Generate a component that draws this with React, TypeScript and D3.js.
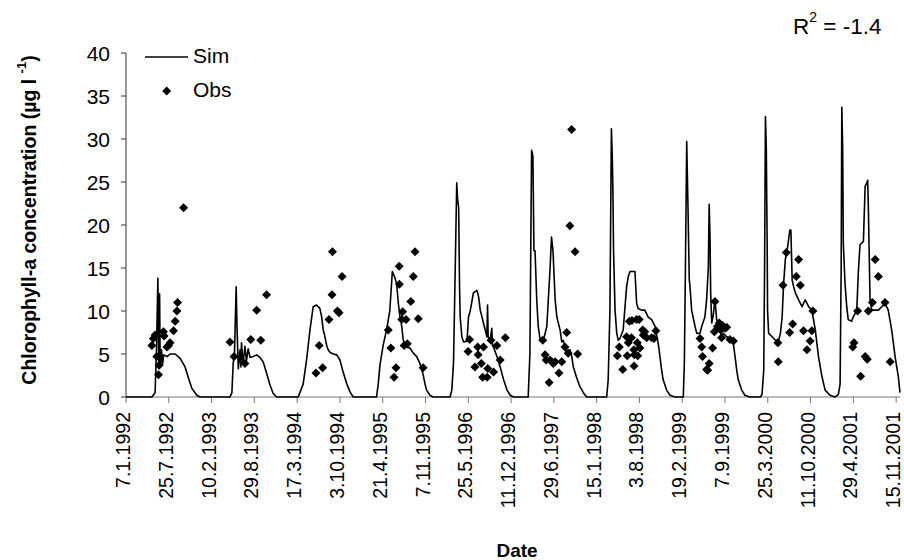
import * as d3 from 'd3'

// simulated chlorophyll-a (breakpoints of the daily series)
const SIM: [string, number][] = [
  ['1992-01-07', 0], ['1992-05-07', 0], ['1992-05-22', 0.5], ['1992-05-29', 6], ['1992-06-04', 13.8], ['1992-06-08', 4],
  ['1992-06-12', 12], ['1992-06-15', 3.5], ['1992-06-21', 5.5], ['1992-06-26', 3.8], ['1992-07-01', 4.9], ['1992-07-17', 4.7],
  ['1992-07-31', 5.0], ['1992-08-24', 5.0], ['1992-09-16', 4.5], ['1992-10-09', 3.5], ['1992-10-25', 2.2], ['1992-11-10', 1.0],
  ['1992-12-03', 0.2], ['1992-12-18', 0],
  ['1993-05-07', 0], ['1993-05-16', 0.5], ['1993-05-22', 3.9], ['1993-05-28', 5], ['1993-06-05', 12.8], ['1993-06-09', 8],
  ['1993-06-15', 3.3], ['1993-06-23', 5.5], ['1993-06-27', 3.5], ['1993-06-30', 6.3], ['1993-07-07', 3.8], ['1993-07-16', 5.9],
  ['1993-07-23', 4.2], ['1993-07-31', 5.6], ['1993-08-09', 4.6], ['1993-08-24', 4.7], ['1993-09-09', 4.9], ['1993-09-24', 4.6],
  ['1993-10-09', 4.1], ['1993-10-25', 2.8], ['1993-11-10', 1.4], ['1993-11-25', 0.4], ['1993-12-11', 0],
  ['1994-03-22', 0], ['1994-04-14', 1.5], ['1994-04-30', 4.3], ['1994-05-16', 7.8], ['1994-05-31', 10.5], ['1994-06-16', 10.7],
  ['1994-07-01', 10.3], ['1994-07-09', 9.4], ['1994-07-17', 7.8], ['1994-07-25', 7.0], ['1994-08-02', 6.0], ['1994-08-09', 5.5],
  ['1994-08-17', 5.2], ['1994-09-02', 5.0], ['1994-09-18', 4.9], ['1994-10-03', 4.3], ['1994-10-18', 2.9], ['1994-11-03', 1.6],
  ['1994-11-19', 0.6], ['1994-12-04', 0],
  ['1995-03-23', 0], ['1995-03-31', 1.5], ['1995-04-08', 3.7], ['1995-04-23', 6.0], ['1995-05-09', 7.8], ['1995-05-24', 10.0],
  ['1995-06-05', 14.6], ['1995-06-15', 14.0], ['1995-06-25', 13.2], ['1995-07-03', 10.9], ['1995-07-11', 9.3], ['1995-07-19', 8.2],
  ['1995-07-26', 6.6], ['1995-08-11', 5.8], ['1995-08-26', 5.7], ['1995-09-11', 5.1], ['1995-09-27', 4.7], ['1995-10-12', 3.9],
  ['1995-10-27', 2.6], ['1995-11-04', 1.6], ['1995-11-12', 0.8], ['1995-11-28', 0.2], ['1995-12-13', 0],
  ['1996-03-01', 0], ['1996-03-09', 0.8], ['1996-03-17', 4], ['1996-03-25', 15], ['1996-04-01', 24.9], ['1996-04-05', 23],
  ['1996-04-10', 22], ['1996-04-14', 13], ['1996-04-17', 9.3], ['1996-04-25', 7], ['1996-05-03', 6.4], ['1996-05-19', 6.5],
  ['1996-05-26', 9.3], ['1996-06-03', 10.0], ['1996-06-18', 12.1], ['1996-07-04', 12.4], ['1996-07-12', 11.7], ['1996-07-20', 10.1],
  ['1996-08-04', 8.6], ['1996-08-20', 7.0], ['1996-08-23', 10.7], ['1996-08-26', 7.0], ['1996-09-04', 6.6], ['1996-09-12', 8.0],
  ['1996-09-15', 6.0], ['1996-09-20', 5.8], ['1996-10-06', 4.7], ['1996-10-21', 3.5], ['1996-11-06', 2.0], ['1996-11-22', 0.8],
  ['1996-12-07', 0.2], ['1996-12-23', 0],
  ['1997-03-01', 0], ['1997-03-09', 5], ['1997-03-14', 20], ['1997-03-17', 28.7], ['1997-03-23', 28], ['1997-03-28', 17],
  ['1997-04-02', 17], ['1997-04-10', 11.3], ['1997-04-17', 8.2], ['1997-04-25', 6.8], ['1997-05-11', 6.6], ['1997-05-27', 8.2],
  ['1997-06-03', 11.3], ['1997-06-11', 14.8], ['1997-06-18', 18.6], ['1997-06-25', 17], ['1997-07-05', 11.3], ['1997-07-13', 9.3],
  ['1997-07-28', 7.8], ['1997-08-05', 6.4], ['1997-08-12', 6.6], ['1997-08-20', 5.8], ['1997-08-28', 5.1], ['1997-09-12', 5.5],
  ['1997-09-20', 4.8], ['1997-09-28', 3.5], ['1997-10-14', 2.2], ['1997-10-29', 1.2], ['1997-11-14', 0.5], ['1997-11-29', 0],
  ['1998-03-03', 0], ['1998-03-10', 2], ['1998-03-18', 10], ['1998-03-25', 31.2], ['1998-03-29', 28], ['1998-04-01', 24],
  ['1998-04-04', 17], ['1998-04-11', 10.1], ['1998-04-19', 7.4], ['1998-04-26', 6.6], ['1998-05-04', 6.8], ['1998-05-19', 7.8],
  ['1998-06-04', 12.8], ['1998-06-12', 14], ['1998-06-20', 14.6], ['1998-07-13', 14.6], ['1998-07-21', 10.9], ['1998-07-28', 10.3],
  ['1998-08-13', 10.1], ['1998-08-28', 10.1], ['1998-09-13', 9.3], ['1998-09-29', 9.0], ['1998-10-15', 8.2], ['1998-10-30', 6.2],
  ['1998-11-07', 4.7], ['1998-11-15', 3.1], ['1998-11-22', 2.0], ['1998-12-08', 0.8], ['1998-12-24', 0.2], ['1999-01-16', 0],
  ['1999-02-24', 0], ['1999-03-01', 4], ['1999-03-06', 15], ['1999-03-12', 29.7], ['1999-03-18', 22], ['1999-03-24', 13.6],
  ['1999-03-27', 13], ['1999-04-04', 10.1], ['1999-04-20', 8.2], ['1999-04-28', 7.4], ['1999-05-13', 7.4], ['1999-05-21', 8.2],
  ['1999-06-05', 9.3], ['1999-06-13', 11.3], ['1999-06-21', 15], ['1999-06-25', 22.4], ['1999-06-29', 18.5], ['1999-07-02', 12.1],
  ['1999-07-07', 8.6], ['1999-07-14', 9.5], ['1999-07-22', 11.3], ['1999-07-30', 9], ['1999-08-14', 8.2], ['1999-08-22', 7.0],
  ['1999-08-30', 7.4], ['1999-09-15', 7.0], ['1999-09-30', 6.8], ['1999-10-16', 6.2], ['1999-10-24', 4.7], ['1999-11-01', 3.1],
  ['1999-11-08', 2.0], ['1999-11-24', 0.8], ['1999-12-09', 0.2], ['1999-12-31', 0],
  ['2000-02-19', 0], ['2000-02-27', 0.3], ['2000-03-06', 3.1], ['2000-03-10', 15], ['2000-03-14', 32.6], ['2000-03-18', 29],
  ['2000-03-22', 18], ['2000-03-24', 10], ['2000-03-29', 7.4], ['2000-04-14', 7], ['2000-04-30', 6.6], ['2000-05-15', 6.6],
  ['2000-05-23', 7.4], ['2000-05-31', 9.3], ['2000-06-07', 13.2], ['2000-06-15', 16], ['2000-06-26', 17.5], ['2000-07-06', 19.4],
  ['2000-07-11', 19.4], ['2000-07-17', 13.6], ['2000-07-24', 12.8], ['2000-08-01', 12.1], ['2000-08-16', 11.3], ['2000-09-01', 10.5],
  ['2000-09-16', 11.3], ['2000-10-02', 10.5], ['2000-10-17', 10.1], ['2000-11-02', 7.8], ['2000-11-17', 4.7], ['2000-12-03', 2.4],
  ['2000-12-18', 0.8], ['2001-01-10', 0.2], ['2001-02-03', 0],
  ['2001-02-18', 0.3], ['2001-02-26', 1.5], ['2001-03-03', 15], ['2001-03-06', 33.7], ['2001-03-10', 29.1], ['2001-03-13', 17.9],
  ['2001-03-21', 13.2], ['2001-03-29', 10.5], ['2001-04-05', 9], ['2001-04-21', 8.8], ['2001-04-28', 9.3], ['2001-05-15', 10.1],
  ['2001-05-22', 14.4], ['2001-05-30', 17.7], ['2001-06-15', 18.1], ['2001-06-23', 24.5], ['2001-07-01', 24.9], ['2001-07-05', 25.2],
  ['2001-07-08', 22.1], ['2001-07-16', 11.3], ['2001-07-24', 10.1], ['2001-08-09', 10.1], ['2001-08-24', 10.1], ['2001-09-09', 10.5],
  ['2001-09-24', 10.9], ['2001-10-09', 10.1], ['2001-10-25', 7.8], ['2001-11-10', 4.7], ['2001-11-25', 2.4], ['2001-12-03', 0.5]
]

// observed samples
const OBS: [string, number][] = [
  ['1992-05-07', 6.0], ['1992-05-14', 6.8], ['1992-05-22', 7.2], ['1992-05-30', 4.7], ['1992-06-07', 2.6], ['1992-06-10', 3.7],
  ['1992-06-30', 7.6], ['1992-07-03', 7.1], ['1992-07-16', 5.8], ['1992-07-24', 6.0], ['1992-07-31', 6.3], ['1992-08-16', 7.7],
  ['1992-08-24', 8.8], ['1992-09-01', 10.0], ['1992-09-04', 11.0], ['1992-10-02', 22.0],
  ['1993-05-07', 6.4], ['1993-05-26', 4.7], ['1993-07-16', 3.9], ['1993-08-12', 6.7], ['1993-09-09', 10.1], ['1993-09-28', 6.6],
  ['1993-10-25', 11.9],
  ['1994-06-13', 2.8], ['1994-06-28', 6.0], ['1994-07-14', 3.4], ['1994-08-13', 9.0], ['1994-08-27', 11.9], ['1994-08-29', 16.9],
  ['1994-09-21', 10.0], ['1994-09-29', 9.8], ['1994-10-13', 14.0],
  ['1995-05-17', 7.8], ['1995-05-29', 5.7], ['1995-06-13', 2.3], ['1995-06-22', 3.4], ['1995-07-07', 15.2], ['1995-07-08', 13.1],
  ['1995-07-19', 9.0], ['1995-07-23', 9.9], ['1995-07-30', 6.0], ['1995-08-08', 9.0], ['1995-08-14', 6.2], ['1995-08-30', 11.1],
  ['1995-09-11', 14.0], ['1995-09-19', 16.9], ['1995-10-04', 9.1], ['1995-10-27', 3.4],
  ['1996-05-24', 5.3], ['1996-05-31', 6.7], ['1996-06-25', 3.5], ['1996-07-08', 5.8], ['1996-07-10', 4.9], ['1996-07-25', 3.9],
  ['1996-07-31', 2.3], ['1996-08-04', 5.8], ['1996-08-21', 2.3], ['1996-08-24', 3.3], ['1996-09-08', 6.6], ['1996-09-20', 2.9],
  ['1996-10-06', 6.0], ['1996-10-21', 4.3], ['1996-11-14', 6.9],
  ['1997-05-08', 6.6], ['1997-05-19', 4.9], ['1997-05-24', 4.3], ['1997-06-07', 1.7], ['1997-06-11', 4.3], ['1997-06-26', 3.9],
  ['1997-07-05', 4.1], ['1997-07-23', 2.8], ['1997-08-05', 4.1], ['1997-08-20', 5.8], ['1997-08-28', 7.5], ['1997-09-04', 5.1],
  ['1997-09-12', 19.9], ['1997-09-20', 31.1], ['1997-10-06', 16.9], ['1997-10-18', 5.0],
  ['1998-04-22', 4.8], ['1998-05-01', 5.8], ['1998-05-17', 3.2], ['1998-06-04', 7.0], ['1998-06-07', 4.8], ['1998-06-12', 6.3],
  ['1998-06-17', 8.8], ['1998-06-27', 6.9], ['1998-06-29', 8.9], ['1998-07-08', 5.5], ['1998-07-10', 4.9], ['1998-07-09', 3.6],
  ['1998-07-21', 9.0], ['1998-07-24', 6.3], ['1998-07-26', 4.8], ['1998-08-02', 9.0], ['1998-08-05', 5.7], ['1998-08-18', 7.8],
  ['1998-08-21', 7.2], ['1998-08-28', 7.6], ['1998-09-06', 6.9], ['1998-09-29', 6.9], ['1998-10-10', 6.8], ['1998-10-19', 7.7],
  ['1999-05-13', 6.8], ['1999-05-21', 5.8], ['1999-05-25', 4.7], ['1999-06-13', 3.2], ['1999-06-18', 3.1], ['1999-06-25', 3.9],
  ['1999-07-11', 5.7], ['1999-07-19', 7.6], ['1999-07-22', 11.1], ['1999-08-02', 8.2], ['1999-08-11', 8.6], ['1999-08-18', 7.8],
  ['1999-08-22', 6.9], ['1999-08-27', 8.3], ['1999-09-07', 8.0], ['1999-09-15', 8.1], ['1999-09-30', 6.7], ['1999-10-16', 6.5],
  ['2000-05-11', 6.3], ['2000-05-13', 4.1], ['2000-06-04', 13.0], ['2000-06-20', 16.8], ['2000-07-05', 7.5], ['2000-07-19', 8.5],
  ['2000-08-05', 14.0], ['2000-08-16', 16.0], ['2000-08-24', 13.0], ['2000-09-08', 7.7], ['2000-09-24', 5.5], ['2000-10-09', 6.5],
  ['2000-10-17', 7.7], ['2000-10-22', 10.0],
  ['2001-04-26', 5.8], ['2001-05-02', 6.3], ['2001-05-19', 10.0], ['2001-06-02', 2.4], ['2001-06-23', 4.7], ['2001-07-03', 4.4],
  ['2001-07-08', 10.0], ['2001-07-27', 11.0], ['2001-08-09', 16.0], ['2001-08-24', 14.0], ['2001-09-24', 11.0], ['2001-10-18', 4.1]
]

const Y_TICKS = [0, 5, 10, 15, 20, 25, 30, 35, 40]
const X_TICK_LABELS = [
  '7.1.1992', '25.7.1992', '10.2.1993', '29.8.1993', '17.3.1994', '3.10.1994', '21.4.1995', '7.11.1995', '25.5.1996',
  '11.12.1996', '29.6.1997', '15.1.1998', '3.8.1998', '19.2.1999', '7.9.1999', '25.3.2000', '11.10.2000', '29.4.2001', '15.11.2001'
]
const X_DOMAIN = ['1992-01-07', '2001-12-03']

const parseDate = d3.timeParse('%Y-%m-%d')
const parseTick = (s: string) => {
  const [d, m, yr] = s.split('.').map(Number)
  return new Date(yr, m - 1, d)
}

const FONT = 'Liberation Sans, Arial, sans-serif'
const diamond = 'M0,-4.5L4.5,0L0,4.5L-4.5,0Z'

export default function App() {
  const width = 904
  const height = 560
  const x = d3.scaleTime().domain(X_DOMAIN.map((d) => parseDate(d) as Date)).range([126, 900])
  const y = d3.scaleLinear().domain([0, 40]).range([397, 53])

  const line = d3
    .line<[string, number]>()
    .x((d) => x(parseDate(d[0]) as Date))
    .y((d) => y(d[1]))

  const [x0, x1] = x.range()
  const [y0, y1] = y.range()

  return (
    <svg width={width} height={height} style={{ position: 'absolute', left: 0, top: 0, background: '#fff' }} fontFamily={FONT}>
      {/* y axis */}
      <line x1={x0} x2={x0} y1={y0} y2={y1} stroke="#333" strokeWidth={1} />
      {Y_TICKS.map((t) => (
        <g key={t}>
          <line x1={x0 - 5} x2={x0} y1={y(t)} y2={y(t)} stroke="#333" />
          <text x={110} y={y(t) + 7.5} textAnchor="end" fontSize={21}>
            {t}
          </text>
        </g>
      ))}

      {/* x axis */}
      <line x1={x0} x2={x1} y1={y0} y2={y0} stroke="#777" strokeWidth={1} />
      {X_TICK_LABELS.map((s) => {
        const tx = x(parseTick(s))
        return (
          <g key={s}>
            <line x1={tx} x2={tx} y1={y0} y2={y0 + 6} stroke="#777" />
            <text transform={`translate(${tx - 3},412) rotate(-90)`} textAnchor="end" dominantBaseline="central" fontSize={19.5}>
              {s}
            </text>
          </g>
        )
      })}

      {/* simulated series */}
      <path d={line(SIM) || ''} fill="none" stroke="#000" strokeWidth={1.6} strokeLinejoin="round" />

      {/* observations */}
      {OBS.map((d, i) => (
        <path key={i} d={diamond} transform={`translate(${x(parseDate(d[0]) as Date)},${y(d[1])})`} fill="#000" />
      ))}

      {/* legend */}
      <line x1={145} x2={188} y1={57} y2={57} stroke="#000" strokeWidth={1.6} />
      <text x={193} y={62.5} fontSize={21}>Sim</text>
      <path d={diamond} transform="translate(166.7,91)" fill="#000" />
      <text x={193} y={96.5} fontSize={21}>Obs</text>

      {/* R² */}
      <text x={793} y={34} fontSize={22.5}>
        R<tspan dy={-12} fontSize={14}>2</tspan>
        <tspan dy={12}> = -1.4</tspan>
      </text>

      {/* axis titles */}
      <text x={517} y={557} textAnchor="middle" fontSize={19} fontWeight="bold">Date</text>
      <text transform="translate(29,220) rotate(-90)" textAnchor="middle" dominantBaseline="central" fontSize={19.5} fontWeight="bold">
        Chlorophyll-a concentration (µg l <tspan dy={-8} fontSize={13}>-1</tspan><tspan dy={8}>)</tspan>
      </text>
    </svg>
  )
}
